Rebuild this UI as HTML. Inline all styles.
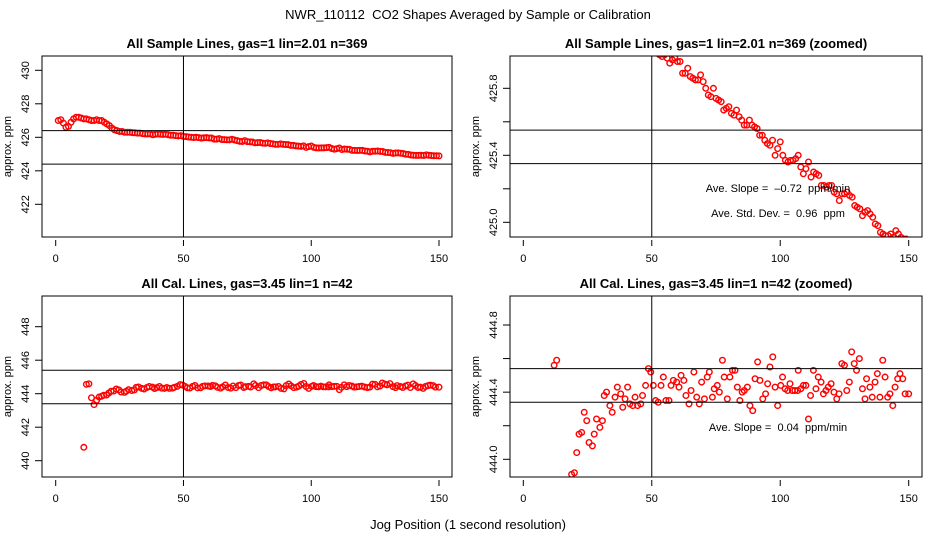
<!DOCTYPE html>
<html><head><meta charset="utf-8"><style>
html,body{margin:0;padding:0;background:#fff;width:936px;height:540px;overflow:hidden;}
svg{display:block;font-family:"Liberation Sans",sans-serif;}
text{white-space:pre;}
</style></head><body>
<svg id="chart" width="936" height="540" viewBox="0 0 936 540">
<text x="468" y="19" text-anchor="middle" font-size="13">NWR_110112  CO2 Shapes Averaged by Sample or Calibration</text>
<text x="468" y="529" text-anchor="middle" font-size="13">Jog Position (1 second resolution)</text>
</svg>
<script>
const sampleVals=[427.0,427.05,426.85,426.6,426.65,426.9,427.1,427.2,427.2,427.15,427.1,427.1,427.05,427.0,427.0,427.05,427.0,427.0,426.9,426.8,426.7,426.55,426.45,426.4,426.35,426.35,426.3,426.3,426.3,426.28,426.27,426.25,426.25,426.22,426.2,426.2,426.2,426.15,426.18,426.2,426.18,426.17,426.18,426.15,426.12,426.12,426.1,426.08,426.1,426.05,
426.04,426.02,426.0,425.99,426.0,425.98,425.95,425.97,425.98,425.96,425.96,425.89,425.89,425.92,425.87,425.86,425.85,425.85,425.88,425.84,425.80,425.76,425.75,425.80,425.74,425.73,425.72,425.67,425.68,425.69,425.65,425.64,425.67,425.63,425.61,425.58,425.58,425.61,425.58,425.57,425.56,425.52,425.52,425.49,425.47,425.46,425.49,425.40,425.44,425.48,425.40,425.37,425.36,425.37,425.37,425.38,425.40,425.33,425.29,425.32,425.36,425.27,425.30,425.29,425.28,425.22,425.22,425.21,425.22,425.22,425.18,425.17,425.13,425.17,425.17,425.18,425.16,425.15,425.10,425.09,425.08,425.04,425.06,425.07,425.05,425.03,424.99,424.98,424.94,424.93,424.92,424.92,424.93,424.91,424.95,424.93,424.91,424.90,424.90,424.89];
const calX=[11,12,13,14,15,16,17,18,18.8,19.9,20.8,21.7,22.7,23.7,24.7,25.6,26.9,27.6,28.5,29.8,30.8,31.5,32.4,33.7,34.6,35.7,36.6,37.9,38.7,39.6,40.6,41.5,42.6,43.5,44.5,45.7,46.4,47.6,48.7,49.6,50.6,51.5,52.5,53.6,54.5,55.5,56.7,57.5,58.4,59.7,60.6,61.4,62.5,63.3,64.5,65.3,66.4,67.5,68.5,69.4,70.5,71.6,72.4,73.6,74.3,75.5,76.3,77.5,78.2,79.4,80.4,81.4,82.4,83.3,84.3,85.2,86,87.2,88.2,89.3,90.2,91.2,92.1,93.2,94.3,95.1,96,97.1,98,99,100.2,100.9,101.9,102.9,103.8,104.7,105.7,106.8,107,108,109,110,111,111.8,112.9,113.9,114.8,115.9,116.8,117.8,118.7,119.8,120.9,122,122.9,124,125,125.9,126.9,127.8,128.8,129.7,130.8,132,133,133.6,134.9,135.8,136.9,137.8,138.8,139.9,140.8,141.8,142.7,143.8,144.7,145.7,146.6,147.7,148.6,150];
const calVals=[440.8,444.56,444.59,443.76,443.35,443.6,443.8,443.85,443.91,443.92,444.04,444.15,444.16,444.28,444.23,444.10,444.08,444.15,444.24,444.19,444.23,444.38,444.40,444.32,444.28,444.37,444.43,444.39,444.31,444.36,444.43,444.33,444.32,444.37,444.32,444.33,444.38,444.44,444.54,444.52,444.44,444.35,444.34,444.44,444.49,444.35,444.35,444.44,444.47,444.46,444.43,444.50,444.47,444.38,444.33,444.41,444.52,444.37,444.33,444.46,444.36,444.49,444.52,444.37,444.42,444.44,444.40,444.59,444.49,444.36,444.49,444.53,444.53,444.43,444.35,444.40,444.41,444.43,444.32,444.29,444.48,444.58,444.47,444.36,444.39,444.45,444.55,444.61,444.43,444.32,444.44,444.49,444.42,444.41,444.45,444.41,444.41,444.41,444.53,444.42,444.44,444.44,444.24,444.38,444.53,444.42,444.49,444.46,444.39,444.41,444.43,444.45,444.40,444.36,444.39,444.57,444.56,444.41,444.46,444.64,444.57,444.53,444.60,444.42,444.36,444.48,444.43,444.37,444.46,444.51,444.37,444.59,444.49,444.37,444.39,444.32,444.43,444.48,444.51,444.48,444.39,444.39];
const xTicks=[0,50,100,150];
const p1Ticks=[422,424,426,428,430];
const p2Ticks=[425.0,425.2,425.4,425.6,425.8];
const p2Labels=["425.0","","425.4","","425.8"];
const p3Ticks=[440,442,444,446,448];
const p4Ticks=[444.0,444.2,444.4,444.6,444.8];
const p4Labels=["444.0","","444.4","","444.8"];
const p1Lines=[426.4,424.4];
const p2Lines=[425.55,425.35];
const p3Lines=[445.4,443.4];
const p4Lines=[444.54,444.34];
const sampleX=sampleVals.map((v,i)=>i+1);

const NS="http://www.w3.org/2000/svg";
const svg=document.getElementById('chart');
function mk(tag,attrs,parent){const e=document.createElementNS(NS,tag);for(const k in attrs)e.setAttribute(k,attrs[k]);(parent||svg).appendChild(e);return e;}

function panel(o){
  const g=mk('g',{});
  
  
  const x=v=>o.x0+(v-0)*(o.x150-o.x0)/150;
  const y=v=>o.yA+(v-o.vA)*(o.yB-o.yA)/(o.vB-o.vA);
  const cid='clip-'+o.name;
  const cp=mk('clipPath',{id:cid},g);
  mk('rect',{x:o.L,y:o.T,width:o.R-o.L,height:o.B-o.T},cp);
  const t=mk('text',{x:(o.L+o.R)/2,y:o.T-8,'text-anchor':'middle','font-size':'13','font-weight':'bold'},g);
  t.textContent=o.title;
  
  
  const pg=mk('g',{'clip-path':'url(#'+cid+')'},g);
  
  
  o.xs.forEach((xv,i)=>{
    const c=mk('circle',{cx:x(xv),cy:y(o.ys[i]),r:2.8,fill:'none',stroke:'#ff0000','stroke-width':1.4},pg);
    
    
  });
  o.lines.forEach(v=>{
    const l=mk('line',{x1:o.L,x2:o.R,y1:y(v),y2:y(v),stroke:'#000','stroke-width':1},g);
    
    
  });
  const vl=mk('line',{x1:x(50),x2:x(50),y1:o.T,y2:o.B,stroke:'#000','stroke-width':1},g);
  
  
  const box=mk('rect',{x:o.L,y:o.T,width:o.R-o.L,height:o.B-o.T,fill:'none',stroke:'#000','stroke-width':1},g);
  
  
  xTicks.forEach(v=>{
    mk('line',{x1:x(v),x2:x(v),y1:o.B+3,y2:o.B+9,stroke:'#000'},g);
    const tl=mk('text',{x:x(v),y:o.B+25,'text-anchor':'middle','font-size':'11'},g);
    tl.textContent=v;
    
    
  });
  o.yTicks.forEach((v,i)=>{
    mk('line',{x1:o.L-7,x2:o.L,y1:y(v),y2:y(v),stroke:'#000'},g);
    const lab=o.yLabels?o.yLabels[i]:String(v);
    if(!lab)return;
    const tx=o.L-13, ty=y(v);
    const tl=mk('text',{x:tx,y:ty,'text-anchor':'middle','font-size':'11',transform:'rotate(-90 '+tx+' '+ty+')'},g);
    tl.textContent=lab;
    
    
  });
  const yt=(o.T+o.B)/2, yx=o.L-31;
  const ya=mk('text',{x:yx,y:yt,'text-anchor':'middle','font-size':'11',transform:'rotate(-90 '+yx+' '+yt+')'},g);
  ya.textContent='approx. ppm';
  
  
  (o.notes||[]).forEach(n=>{
    const nt=mk('text',{x:n[0],y:n[1],'text-anchor':'middle','font-size':'11'},g);
    nt.textContent=n[2];
    
    
  });
}
panel({name:'sample-panel',title:'All Sample Lines, gas=1 lin=2.01 n=369',L:42,R:452,T:56,B:237,x0:55.7,x150:439,vA:430,yA:70.3,vB:422,yB:204.3,xs:sampleX,ys:sampleVals,lines:p1Lines,yTicks:p1Ticks});
panel({name:'sample-zoomed-panel',title:'All Sample Lines, gas=1 lin=2.01 n=369 (zoomed)',L:510,R:922,T:56,B:237,x0:523.3,x150:908.7,vA:425.8,yA:88.3,vB:425.0,yB:222.3,xs:sampleX,ys:sampleVals,lines:p2Lines,yTicks:p2Ticks,yLabels:p2Labels,
  notes:[[778,192,'Ave. Slope =  \u20130.72  ppm/min'],[778,217,'Ave. Std. Dev. =  0.96  ppm']]});
panel({name:'cal-panel',title:'All Cal. Lines, gas=3.45 lin=1 n=42',L:42,R:452,T:296,B:477,x0:55.7,x150:439,vA:448,yA:326.7,vB:440,yB:460.7,xs:calX,ys:calVals,lines:p3Lines,yTicks:p3Ticks});
panel({name:'cal-zoomed-panel',title:'All Cal. Lines, gas=3.45 lin=1 n=42 (zoomed)',L:510,R:922,T:296,B:477,x0:523.3,x150:908.7,vA:444.8,yA:325,vB:444.0,yB:459.3,xs:calX,ys:calVals,lines:p4Lines,yTicks:p4Ticks,yLabels:p4Labels,
  notes:[[778,431,'Ave. Slope =  0.04  ppm/min']]});
</script>
</body></html>
